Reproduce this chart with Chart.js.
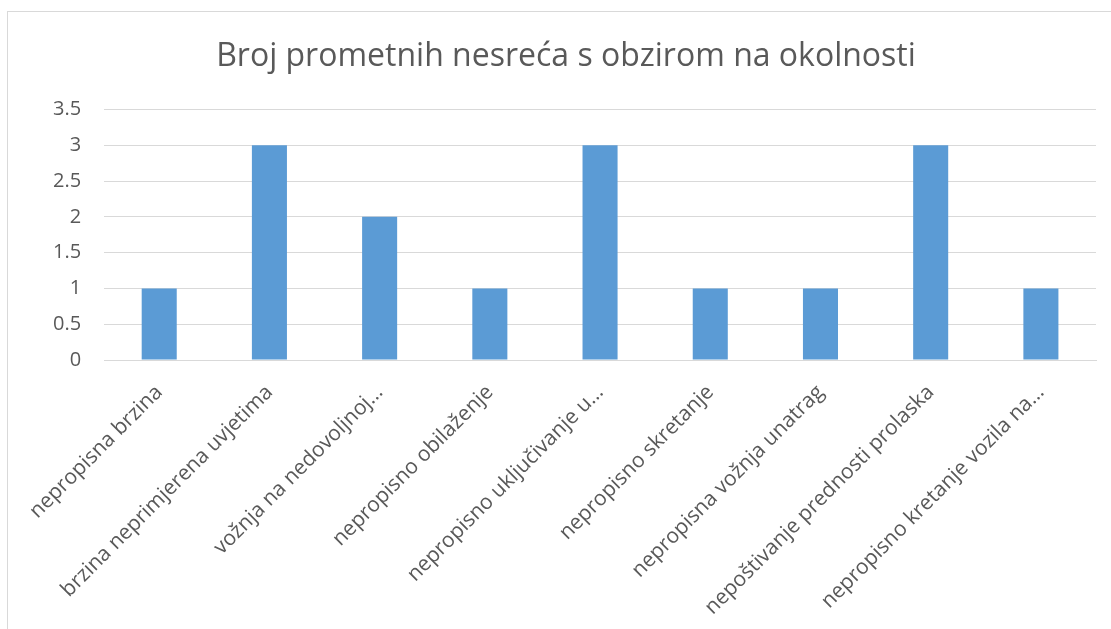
<!DOCTYPE html>
<html>
<head>
<meta charset="utf-8">
<script src="https://cdn.jsdelivr.net/npm/chart.js@4.4.1/dist/chart.umd.min.js"></script>
<style>
  html, body { margin: 0; padding: 0; background: #fff; overflow: hidden; }
  #box {
    position: absolute; left: 7px; top: 11px;
    width: 1103px; height: 617px;
    border: 1px solid #d9d9d9;
  }
</style>
</head>
<body>
<div id="box"><canvas id="myChart" width="1103" height="617"></canvas></div>
<script>
// ================= Data =================
const categories = [
  'nepropisna brzina',
  'brzina neprimjerena uvjetima',
  'vožnja na nedovoljnoj…',
  'nepropisno obilaženje',
  'nepropisno uključivanje u…',
  'nepropisno skretanje',
  'nepropisna vožnja unatrag',
  'nepoštivanje prednosti prolaska',
  'nepropisno kretanje vozila na…'
];
const values = [1, 3, 2, 1, 3, 1, 1, 3, 1];
const yTicks = [0, 0.5, 1, 1.5, 2, 2.5, 3, 3.5];
const chartTitle = 'Broj prometnih nesreća s obzirom na okolnosti';

const textColor = '#595959';
const fontFamily = '"Open Sans", "DejaVu Sans", sans-serif';

// ================= Chart =================
const ctx = document.getElementById('myChart');

new Chart(ctx, {
  type: 'bar',
  data: {
    labels: categories,
    datasets: [{
      data: values,
      backgroundColor: '#5b9bd5',
      categoryPercentage: 1,
      barPercentage: 0.318
    }]
  },
  options: {
    responsive: false,
    animation: false,
    // left padding pushes the title centre to the right like the original
    layout: { padding: { left: 28, right: 15, top: 0, bottom: 0 } },
    plugins: {
      legend: { display: false },
      tooltip: { enabled: false },
      title: {
        display: true,
        text: chartTitle,
        color: textColor,
        font: { family: fontFamily, size: 32, weight: 'normal', lineHeight: 1.2 },
        padding: { top: 26, bottom: 33 }
      }
    },
    scales: {
      x: {
        grid: { display: false, drawTicks: false },
        border: { color: '#d9d9d9', width: 1 },
        ticks: {
          color: textColor,
          font: { family: fontFamily, size: 21 },
          minRotation: 45,
          maxRotation: 45,
          autoSkip: false,
          padding: 20
        },
        afterFit: scale => { scale.height = 269; }
      },
      y: {
        min: 0,
        max: 3.5,
        afterBuildTicks: scale => { scale.ticks = yTicks.map(v => ({ value: v })); },
        grid: { color: '#d9d9d9', lineWidth: 1, drawTicks: false },
        border: { display: false },
        ticks: {
          color: textColor,
          font: { family: fontFamily, size: 20 },
          padding: 23,
          callback: v => String(v)
        },
        afterFit: scale => { scale.width = 68; }
      }
    }
  }
});
</script>
</body>
</html>
